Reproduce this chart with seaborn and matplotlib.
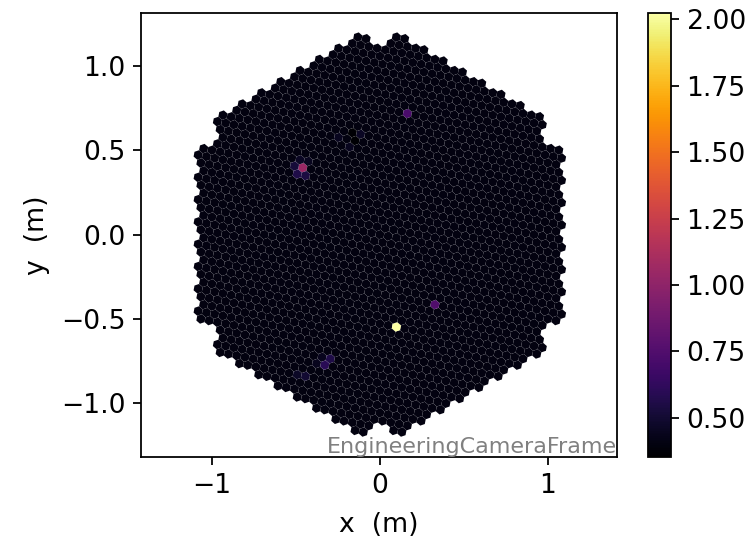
#!/usr/bin/env python3
"""Camera image, hexagonal pixels in the engineering frame"""

import numpy as np
import pandas as pd
import matplotlib
matplotlib.use("Agg")
import matplotlib.pyplot as plt
from matplotlib.cm import ScalarMappable
from matplotlib.colors import Normalize
from matplotlib.markers import MarkerStyle
from matplotlib.transforms import Affine2D
import seaborn as sns

# camera layout: 7-pixel modules on a hex lattice, corners removed
PIXEL_SPACING = 0.05
MODULE_RINGS = 9
PIXEL_ROTATION = -10.893

# charge on all pixels without a visible signal
BASE_CHARGE = 0.40
VMIN = 0.353
VMAX = 2.023

HOT_X = [0.095, -0.46, 0.167, 0.325, -0.487, -0.473, -0.444, -0.475, -0.43,
         -0.298, -0.331, -0.446, -0.492, -0.347, -0.375,
         -0.167, -0.149, -0.12, -0.25, -0.185]
HOT_Y = [-0.547, 0.40, 0.72, -0.417, 0.41, 0.36, 0.35, 0.45, 0.43,
         -0.739, -0.775, -0.84, -0.834, -0.735, -0.77,
         0.60, 0.556, 0.60, 0.58, 0.52]
HOT_CHARGE = [2.02, 1.05, 0.72, 0.75, 0.52, 0.56, 0.54, 0.46, 0.45,
              0.56, 0.60, 0.50, 0.47, 0.44, 0.44,
              0.353, 0.353, 0.46, 0.45, 0.45]

CMAP = "inferno"
FRAME_LABEL = "EngineeringCameraFrame"
DPI = 160


def camera_pixels():
    """pixel centres of the camera"""
    d = PIXEL_SPACING
    angle = np.deg2rad(PIXEL_ROTATION)
    u = d * np.array([np.cos(angle), np.sin(angle)])
    v = d * np.array([np.cos(angle + np.pi / 3), np.sin(angle + np.pi / 3)])
    w = v - u
    # module lattice, one axis points straight up
    a = u + 2 * v
    b = v + 2 * w
    flower = [np.zeros(2), u, v, w, -u, -v, -w]
    pts = []
    n = MODULE_RINGS
    corners = {(n, 0), (0, n), (-n, n), (-n, 0), (0, -n), (n, -n)}
    for i in range(-n, n + 1):
        for j in range(-n, n + 1):
            if abs(i + j) > n or (i, j) in corners:
                continue
            for f in flower:
                pts.append(i * a + j * b + f)
    return np.array(pts)


def main():
    sns.set_style("ticks")
    plt.rcParams["font.family"] = ["DejaVu Sans"]
    plt.rcParams["axes.edgecolor"] = "black"
    plt.rcParams["xtick.color"] = "black"
    plt.rcParams["ytick.color"] = "black"
    plt.rcParams["text.color"] = "black"
    plt.rcParams["axes.labelcolor"] = "black"
    plt.rcParams["axes.labelsize"] = 12
    plt.rcParams["xtick.labelsize"] = 12
    plt.rcParams["ytick.labelsize"] = 12

    pts = camera_pixels()
    charge = np.full(len(pts), BASE_CHARGE)
    for x, y, c in zip(HOT_X, HOT_Y, HOT_CHARGE):
        idx = np.argmin((pts[:, 0] - x) ** 2 + (pts[:, 1] - y) ** 2)
        charge[idx] = c
    df = pd.DataFrame({"x": pts[:, 0], "y": pts[:, 1], "charge": charge})

    fig = plt.figure(figsize=(749 / DPI, 538 / DPI), dpi=DPI)
    ax = fig.add_axes([141 / 749, 1 - 457 / 538, 476 / 749, 444 / 538])
    cax = fig.add_axes([648 / 749, 1 - 457 / 538, 23 / 749, 444 / 538])

    norm = Normalize(VMIN, VMAX)
    hexagon = MarkerStyle("h", transform=Affine2D().rotate_deg(PIXEL_ROTATION))
    sns.scatterplot(data=df, x="x", y="y", hue="charge", hue_norm=norm, palette=CMAP,
                    marker=hexagon, s=19, linewidth=0, legend=False, ax=ax)

    ax.set_xlim(-1.42, 1.41)
    ax.set_ylim(-1.32, 1.315)
    ax.set_xticks([-1, 0, 1])
    ax.set_yticks([-1, -0.5, 0, 0.5, 1])
    ax.set_xlabel("x  (m)", labelpad=6)
    ax.set_ylabel("y  (m)", labelpad=5)
    ax.text(1.0, 0.0, FRAME_LABEL, transform=ax.transAxes, ha="right", va="bottom",
            color="gray", fontsize=10)

    cb = fig.colorbar(ScalarMappable(norm=norm, cmap=CMAP), cax=cax)
    cb.set_ticks([0.5, 0.75, 1.0, 1.25, 1.5, 1.75, 2.0])
    cb.ax.set_yticklabels(["0.50", "0.75", "1.00", "1.25", "1.50", "1.75", "2.00"])

    fig.savefig("out.png", dpi=DPI)
    plt.close(fig)


if __name__ == "__main__":
    main()
